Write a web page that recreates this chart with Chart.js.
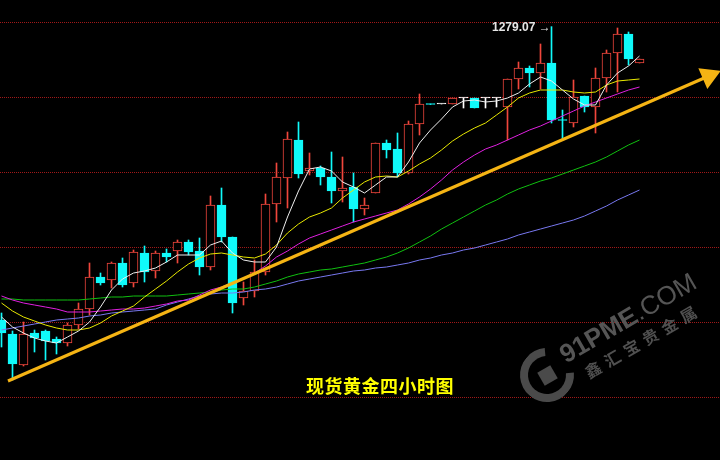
<!DOCTYPE html>
<html>
<head>
<meta charset="utf-8">
<script src="https://cdn.jsdelivr.net/npm/chart.js@4.4.1/dist/chart.umd.min.js"></script>
<style>
html, body { margin: 0; padding: 0; background: #000; }
#wrap { position: relative; width: 720px; height: 460px; overflow: hidden; background: #000; }
#chart { position: absolute; left: 0; top: 0; }
.lbl { position: absolute; white-space: nowrap; pointer-events: none; }
#title { left: 380px; top: 385px; transform: translate(-50%, -50%); color: #ffff00;
  font: bold 18px "Noto Sans CJK SC"; letter-spacing: 0.5px; }
#hi { left: 492px; top: 20px; color: #e6e6e6; font: bold 12px "Liberation Sans", Arial; }
#wm1 { left: 628px; top: 318px; transform: translate(-50%, -50%) rotate(-30deg); color: #555;
  font: bold 26px "Liberation Sans", Arial; }
#wm1 span { font-weight: normal; }
#wm2 { left: 643px; top: 340px; transform: translate(-50%, -50%) rotate(-30deg); color: #505050;
  font: bold 16px "Noto Sans CJK SC"; letter-spacing: 6px; }
#ring { left: 520px; top: 348px; width: 54px; height: 54px; box-sizing: border-box;
  border: 8px solid #4a4a4a; border-top-color: transparent; border-radius: 50%; transform: rotate(40deg); }
#sq { left: 540px; top: 368px; width: 15px; height: 15px; background: #4a4a4a; transform: rotate(-30deg); }
</style>
</head>
<body>
<div id="wrap">
  <canvas id="chart"></canvas>
  <div class="lbl" id="ring"></div>
  <div class="lbl" id="sq"></div>
  <div class="lbl" id="wm1">91PME<span>.COM</span></div>
  <div class="lbl" id="wm2">鑫汇宝贵金属</div>
  <div class="lbl" id="hi"></div>
  <div class="lbl" id="title">现货黄金四小时图</div>
</div>
<script>
// Candles, 4 hour bars
const OPEN = [1220.4,1217.6,1211.4,1217.8,1218.2,1216.6,1215.8,1219.4,1222.6,1229.0,
  1228.4,1231.8,1227.8,1233.8,1230.2,1233.8,1234.2,1236.0,1234.2,1231.0,
  1243.4,1237.0,1224.8,1226.2,1230.0,1243.6,1248.8,1256.4,1250.2,1250.8,
  1249.0,1246.2,1247.0,1242.6,1245.8,1255.8,1254.6,1249.8,1259.6,1263.6,
  1263.6,1263.6,1264.8,1264.8,1264.8,1264.8,1263.0,1268.6,1270.8,1269.8,
  1271.8,1260.4,1259.8,1265.2,1263.0,1268.8,1273.8,1277.6,1271.8];
const HIGH = [1221.8,1218.2,1220.0,1218.4,1218.4,1217.0,1219.8,1223.8,1231.8,1229.8,
  1232.0,1232.8,1234.4,1235.2,1234.2,1234.6,1236.4,1236.4,1236.8,1245.2,
  1246.8,1237.0,1228.0,1232.4,1245.6,1251.8,1258.0,1260.0,1253.8,1251.2,
  1254.0,1253.0,1249.8,1244.8,1255.8,1256.4,1257.8,1260.2,1265.6,1263.6,
  1263.6,1264.8,1264.8,1264.8,1264.8,1264.8,1268.6,1272.0,1271.2,1275.6,
  1279.07,1262.4,1268.4,1265.2,1270.8,1274.4,1278.8,1278.0,1272.6];
const LOW = [1215.0,1208.4,1211.2,1214.0,1212.4,1213.6,1215.2,1218.6,1221.4,1227.4,
  1226.8,1227.0,1227.0,1228.0,1228.8,1232.0,1231.8,1233.4,1229.4,1230.4,
  1236.0,1221.8,1223.4,1225.0,1229.4,1240.0,1242.8,1248.8,1249.4,1247.4,
  1243.8,1244.0,1240.0,1241.4,1245.8,1252.8,1249.0,1249.6,1257.4,1263.5,
  1263.6,1263.6,1262.8,1262.8,1262.8,1263.0,1256.4,1266.6,1267.0,1266.6,
  1259.8,1256.4,1259.0,1262.0,1257.8,1266.0,1266.0,1271.4,1271.8];
const CLOSE = [1217.8,1211.6,1217.6,1216.8,1216.2,1215.8,1219.4,1222.6,1229.0,1227.8,
  1231.8,1227.4,1234.0,1230.0,1233.8,1233.0,1236.0,1234.0,1231.0,1243.4,
  1237.0,1223.8,1226.2,1230.0,1243.6,1249.0,1256.6,1249.6,1250.8,1249.0,
  1246.2,1246.8,1242.6,1243.4,1255.8,1254.4,1249.8,1259.6,1263.6,1263.5,
  1263.6,1264.8,1264.8,1262.8,1264.8,1264.8,1268.6,1270.8,1269.8,1271.8,
  1260.4,1260.3,1265.0,1263.0,1268.8,1273.8,1277.6,1272.6,1272.6];

// Moving average lines
const MA5 = [1221.0,1219.0,1217.8,1216.8,1216.2,1215.8,1217.0,1218.2,1220.0,1223.0,
  1226.4,1228.6,1229.8,1230.2,1230.8,1232.0,1233.4,1233.4,1233.4,1235.4,
  1236.2,1233.8,1232.4,1232.0,1232.0,1235.0,1241.0,1246.2,1250.6,1251.0,
  1250.2,1248.0,1247.0,1245.8,1247.4,1249.0,1249.0,1252.0,1255.8,1258.4,
  1260.6,1263.0,1264.2,1264.4,1264.0,1264.2,1264.8,1265.8,1267.6,1269.0,
  1268.2,1266.4,1264.6,1263.4,1263.4,1267.4,1269.8,1271.2,1273.2];
const MA10 = [1223.8,1222.2,1221.0,1220.2,1219.4,1218.8,1218.4,1218.4,1218.8,1219.8,
  1221.2,1222.2,1223.2,1225.0,1226.6,1228.2,1230.0,1231.6,1232.8,1233.6,
  1233.8,1233.4,1233.0,1232.8,1233.6,1235.4,1237.8,1239.6,1241.0,1241.8,
  1242.8,1244.8,1246.4,1248.0,1249.0,1249.2,1249.0,1250.2,1251.6,1252.8,
  1254.4,1256.2,1257.6,1258.8,1259.8,1261.4,1263.0,1264.8,1265.8,1266.4,
  1266.4,1266.4,1266.0,1265.8,1266.0,1267.4,1268.2,1268.4,1268.6];
const MA20 = [1225.2,1224.4,1223.8,1223.4,1223.0,1222.6,1222.0,1222.0,1222.0,1222.2,
  1222.4,1222.6,1222.6,1222.8,1223.2,1223.6,1224.2,1224.4,1225.4,1226.4,
  1227.0,1227.8,1228.8,1229.8,1231.2,1233.0,1234.2,1235.6,1236.8,1237.6,
  1238.4,1239.2,1240.0,1240.6,1241.2,1241.8,1242.4,1243.6,1245.0,1246.6,
  1248.4,1250.4,1252.0,1253.4,1254.6,1255.4,1256.4,1257.4,1258.4,1259.2,
  1260.2,1261.2,1262.2,1263.2,1264.0,1264.8,1265.6,1266.4,1267.0];
const MA40 = [1224.6,1224.6,1224.4,1224.4,1224.4,1224.4,1224.4,1224.4,1224.6,1224.8,
  1225.0,1225.0,1225.2,1225.2,1225.2,1225.2,1225.4,1225.6,1225.8,1226.0,
  1226.4,1226.6,1226.6,1227.0,1227.6,1228.2,1229.0,1229.6,1230.0,1230.4,
  1230.6,1231.0,1231.4,1231.8,1232.4,1233.0,1233.8,1234.8,1236.0,1237.2,
  1238.6,1239.8,1241.0,1242.2,1243.4,1244.4,1245.6,1246.6,1247.4,1248.2,
  1248.8,1249.6,1250.4,1251.2,1252.0,1253.0,1254.2,1255.4,1256.4];
const MA60 = [1218.4,1218.8,1219.2,1219.6,1220.0,1220.4,1220.6,1220.8,1221.2,1221.4,
  1221.8,1222.0,1222.2,1222.4,1222.6,1223.4,1224.0,1224.6,1225.2,1225.6,
  1225.8,1225.8,1226.0,1226.4,1226.6,1227.0,1227.6,1228.2,1228.6,1229.0,
  1229.4,1229.8,1230.2,1230.4,1230.8,1231.0,1231.4,1231.8,1232.4,1232.8,
  1233.4,1233.8,1234.4,1234.8,1235.4,1236.0,1236.6,1237.4,1238.0,1238.6,
  1239.2,1239.8,1240.4,1241.2,1242.2,1243.2,1244.4,1245.4,1246.4];

// Hand drawn trend arrow (bar index, price)
const TREND_X = [0.59, 64.3];
const TREND_Y = [1208.2, 1269.2];

// Horizontal grid prices (no labels shown on the picture)
const GRID_PRICES = [1205, 1220, 1235, 1250, 1265, 1280];
const HIGH_LABEL = "1279.07 \u2192";

const UP = "#f0463c";
const DOWN = "#10fafa";
const FLAT = "#ffffff";

document.getElementById("hi").textContent = HIGH_LABEL;

const idx = OPEN.map((_, i) => i);
const colors = idx.map(i => CLOSE[i] > OPEN[i] ? UP : (CLOSE[i] < OPEN[i] ? DOWN : FLAT));
// red candles are hollow
const fills = colors.map(c => c === UP ? "#000000" : c);

const lineSet = (data, color) => ({
    type: "line",
    data: data.map((v, i) => ({ x: i, y: v })),
    borderColor: color,
    borderWidth: 1,
    pointRadius: 0,
    tension: 0,
    order: 1
});

const ctx = document.getElementById("chart").getContext("2d");
const chart = new Chart(ctx, {
    type: "bar",
    data: {
        datasets: [
            {
                // trend arrow
                type: "line",
                data: TREND_X.map((x, i) => ({ x: x, y: TREND_Y[i] })),
                borderColor: "#f5b414",
                borderWidth: 3,
                pointRadius: [0, 10],
                pointStyle: "triangle",
                pointRotation: 66.5,
                pointBackgroundColor: "#f5b414",
                pointBorderColor: "#f5b414",
                order: 0
            },
            lineSet(MA5, "#eeeeee"),
            lineSet(MA10, "#e8e800"),
            lineSet(MA20, "#e020e0"),
            lineSet(MA40, "#10c010"),
            lineSet(MA60, "#7878f0"),
            {
                // bodies
                data: idx.map(i => ({ x: i, y: [OPEN[i], CLOSE[i]] })),
                backgroundColor: fills,
                borderColor: colors,
                borderWidth: 1,
                borderSkipped: false,
                barThickness: 9,
                minBarLength: 1,
                grouped: false,
                order: 2
            },
            {
                // wicks
                data: idx.map(i => ({ x: i, y: [LOW[i], HIGH[i]] })),
                backgroundColor: colors,
                borderWidth: 0,
                barThickness: 1,
                grouped: false,
                order: 3
            }
        ]
    },
    options: {
        responsive: true,
        maintainAspectRatio: false,
        animation: false,
        events: [],
        layout: { padding: 0, autoPadding: false },
        plugins: {
            legend: { display: false },
            tooltip: { enabled: false }
        },
        scales: {
            x: {
                type: "linear",
                display: false,
                offset: false,
                min: -1.5 / 11,
                max: -1.5 / 11 + 720 / 11
            },
            y: {
                type: "linear",
                min: 1192.4,
                max: 1284.4,
                afterBuildTicks: scale => {
                    scale.ticks = GRID_PRICES.map(v => ({ value: v }));
                },
                ticks: { display: false },
                grid: { color: "#a01818", lineWidth: 1, drawTicks: false },
                border: { display: false, dash: [1, 1] }
            }
        }
    }
});
</script>
</body>
</html>
